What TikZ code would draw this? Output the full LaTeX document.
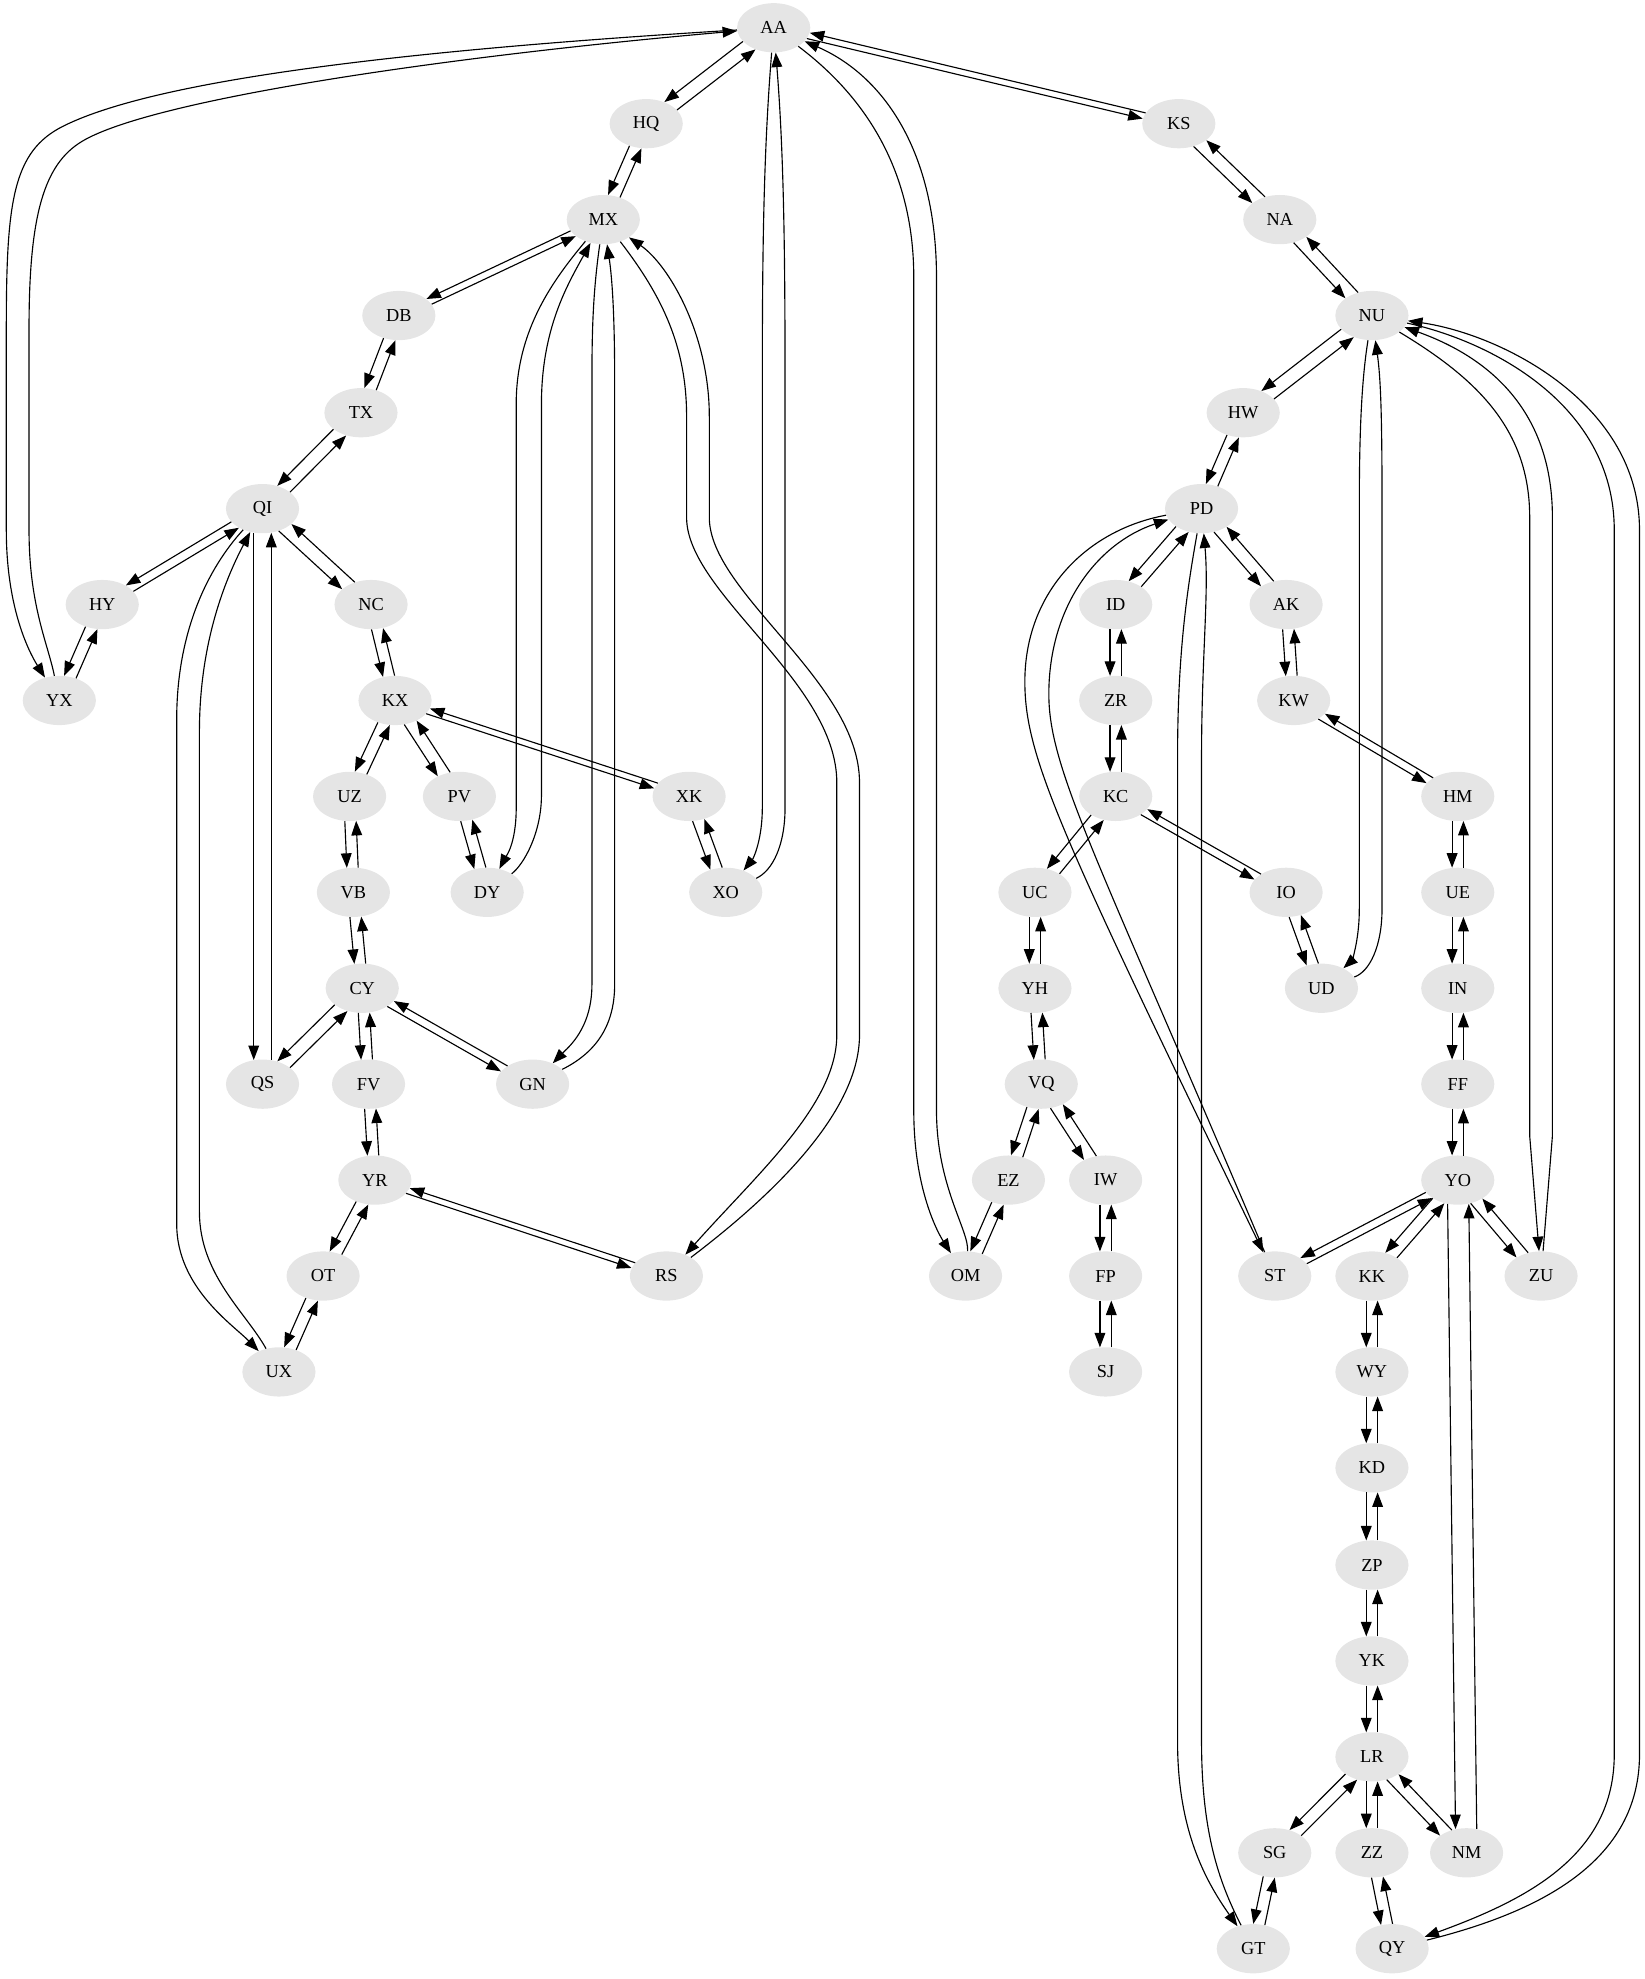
\documentclass[tikz,border=0pt]{standalone}
\usepackage{fontspec}
\setmainfont{Liberation Serif}
\usetikzlibrary{arrows.meta,calc,shapes.geometric}
\definecolor{nodefill}{RGB}{229,229,229}
\tikzset{
  gn/.style={ellipse, fill=nodefill, minimum width=58pt, minimum height=39pt, inner sep=0pt,
    font=\fontsize{14.5}{17}\selectfont},
  e/.style={draw, line width=0.9pt, -{Triangle[length=11.5pt,width=8.5pt]}},
  pr/.style={to path={let \p1=(\tikztostart.center), \p2=(\tikztotarget.center),
      \n1={atan2(\y2-\y1,\x2-\x1)}, \n2={int(round(\n1-#1))}, \n3={int(round(\n1+180+#1))}
      in (\tikztostart.\n2) -- (\tikztotarget.\n3)}},
  pr/.default=13
}
\newcommand{\dpair}[3][13]{\draw[e,pr=#1] (#2) to (#3); \draw[e,pr=#1] (#3) to (#2);}
\begin{document}
\begin{tikzpicture}[x=1pt,y=-1pt]
\useasboundingbox (0,0) rectangle (1303,1568);
\node[gn] (AA) at (613,22) {AA};
\node[gn] (HQ) at (512,98) {HQ};
\node[gn] (KS) at (934,98) {KS};
\node[gn] (MX) at (478,174) {MX};
\node[gn] (NA) at (1014,174) {NA};
\node[gn] (DB) at (316,250) {DB};
\node[gn] (NU) at (1087,250) {NU};
\node[gn] (TX) at (286,327) {TX};
\node[gn] (HW) at (985,327) {HW};
\node[gn] (QI) at (208,403) {QI};
\node[gn] (PD) at (952,403) {PD};
\node[gn] (HY) at (81,479) {HY};
\node[gn] (NC) at (294,479) {NC};
\node[gn] (ID) at (884,479) {ID};
\node[gn] (AK) at (1019,479) {AK};
\node[gn] (YX) at (47,555) {YX};
\node[gn] (KX) at (313,555) {KX};
\node[gn] (ZR) at (884,555) {ZR};
\node[gn] (KW) at (1025,555) {KW};
\node[gn] (UZ) at (277,631) {UZ};
\node[gn] (PV) at (364,631) {PV};
\node[gn] (XK) at (546,631) {XK};
\node[gn] (KC) at (884,631) {KC};
\node[gn] (HM) at (1155,631) {HM};
\node[gn] (VB) at (280,707) {VB};
\node[gn] (DY) at (386,707) {DY};
\node[gn] (XO) at (575,707) {XO};
\node[gn] (UC) at (820,707) {UC};
\node[gn] (IO) at (1019,707) {IO};
\node[gn] (UE) at (1155,707) {UE};
\node[gn] (CY) at (287,783) {CY};
\node[gn] (YH) at (820,783) {YH};
\node[gn] (UD) at (1047,783) {UD};
\node[gn] (IN) at (1155,783) {IN};
\node[gn] (QS) at (208,859) {QS};
\node[gn] (FV) at (292,859) {FV};
\node[gn] (GN) at (422,859) {GN};
\node[gn] (VQ) at (825,859) {VQ};
\node[gn] (FF) at (1155,859) {FF};
\node[gn] (YR) at (297,935) {YR};
\node[gn] (EZ) at (799,935) {EZ};
\node[gn] (IW) at (876,935) {IW};
\node[gn] (YO) at (1155,935) {YO};
\node[gn] (OT) at (256,1011) {OT};
\node[gn] (RS) at (528,1011) {RS};
\node[gn] (OM) at (765,1011) {OM};
\node[gn] (FP) at (876,1011) {FP};
\node[gn] (ST) at (1010,1011) {ST};
\node[gn] (KK) at (1087,1011) {KK};
\node[gn] (ZU) at (1221,1011) {ZU};
\node[gn] (UX) at (221,1087) {UX};
\node[gn] (SJ) at (876,1087) {SJ};
\node[gn] (WY) at (1087,1087) {WY};
\node[gn] (KD) at (1087,1163) {KD};
\node[gn] (ZP) at (1087,1240) {ZP};
\node[gn] (YK) at (1087,1316) {YK};
\node[gn] (LR) at (1087,1392) {LR};
\node[gn] (SG) at (1010,1468) {SG};
\node[gn] (ZZ) at (1087,1468) {ZZ};
\node[gn] (NM) at (1162,1468) {NM};
\node[gn] (GT) at (993,1544) {GT};
\node[gn] (QY) at (1103,1544) {QY};

% short / straight pairs
\dpair{AA}{HQ}
\dpair[5]{AA}{KS}
\dpair{HQ}{MX}
\dpair[6]{MX}{DB}
\dpair{DB}{TX}
\dpair{TX}{QI}
\dpair[8]{QI}{HY}
\dpair{QI}{NC}
\dpair[20]{QI}{QS}
\dpair{HY}{YX}
\dpair{NC}{KX}
\dpair{KX}{UZ}
\dpair{KX}{PV}
\dpair[5]{KX}{XK}
\dpair{UZ}{VB}
\dpair{PV}{DY}
\dpair{XK}{XO}
\dpair{VB}{CY}
\dpair{CY}{QS}
\dpair{CY}{FV}
\dpair[7]{CY}{GN}
\dpair{FV}{YR}
\dpair{YR}{OT}
\dpair[5]{YR}{RS}
\dpair{OT}{UX}
\dpair{KS}{NA}
\dpair{NA}{NU}
\dpair{NU}{HW}
\dpair{HW}{PD}
\dpair{PD}{ID}
\dpair{PD}{AK}
\dpair{ID}{ZR}
\dpair{AK}{KW}
\dpair{ZR}{KC}
\dpair[7]{KW}{HM}
\dpair{KC}{UC}
\dpair[7]{KC}{IO}
\dpair{HM}{UE}
\dpair{UC}{YH}
\dpair{IO}{UD}
\dpair{UE}{IN}
\dpair{YH}{VQ}
\dpair{IN}{FF}
\dpair{VQ}{EZ}
\dpair{VQ}{IW}
\dpair{FF}{YO}
\dpair{EZ}{OM}
\dpair{IW}{FP}
\dpair[7]{YO}{ST}
\dpair[12]{YO}{KK}
\dpair[12]{YO}{ZU}
\dpair[24]{YO}{NM}
\dpair{FP}{SJ}
\dpair{KK}{WY}
\dpair{WY}{KD}
\dpair{KD}{ZP}
\dpair{ZP}{YK}
\dpair{YK}{LR}
\dpair[12]{LR}{SG}
\dpair{LR}{ZZ}
\dpair[12]{LR}{NM}
\dpair{SG}{GT}
\dpair{ZZ}{QY}

% long curved edges
% AA -- YX
\draw[e] (AA) .. controls (350,38) and (130,60) .. (50,100) .. controls (10,120) and (5,160) .. (5,260) -- (5,420) .. controls (5,480) and (22,515) .. (YX);
\draw[e] (YX) .. controls (38,510) and (23,480) .. (23,420) -- (23,260) .. controls (23,170) and (35,130) .. (65,112) .. controls (120,79) and (350,45) .. (AA);
% AA -- XO
\draw[e] (AA) .. controls (605,120) and (604,200) .. (604,300) -- (604,640) .. controls (604,665) and (597,680) .. (XO);
\draw[e] (XO) .. controls (612,690) and (622,670) .. (622,640) -- (622,300) .. controls (622,200) and (621,120) .. (AA);
% AA -- OM
\draw[e] (AA) .. controls (690,80) and (724,140) .. (724,220) -- (724,880) .. controls (724,940) and (742,975) .. (OM);
\draw[e] (OM) .. controls (768,975) and (742,940) .. (742,880) -- (742,220) .. controls (742,120) and (700,60) .. (AA);
% MX -- RS
\draw[e] (MX) .. controls (525,235) and (544,275) .. (544,330) -- (544,410) .. controls (544,470) and (663,540) .. (663,620) -- (663,820) .. controls (663,875) and (600,930) .. (RS);
\draw[e] (RS) .. controls (615,945) and (681,880) .. (681,820) -- (681,620) .. controls (681,540) and (562,470) .. (562,410) -- (562,330) .. controls (562,265) and (530,210) .. (MX);
% MX -- DY
\draw[e] (MX) .. controls (440,220) and (409,260) .. (409,320) -- (409,640) .. controls (409,670) and (400,680) .. (DY);
\draw[e] (DY) .. controls (415,685) and (429,660) .. (429,630) -- (429,320) .. controls (429,260) and (450,225) .. (MX);
% MX -- GN
\draw[e] (MX) .. controls (470,230) and (469,260) .. (469,300) -- (469,780) .. controls (469,815) and (450,830) .. (GN);
\draw[e] (GN) .. controls (470,835) and (487,815) .. (487,780) -- (487,300) .. controls (487,250) and (485,220) .. (MX);
% QI -- UX
\draw[e] (QI) .. controls (165,450) and (140,500) .. (140,570) -- (140,970) .. controls (140,1020) and (185,1050) .. (UX);
\draw[e] (UX) .. controls (195,1040) and (158,1010) .. (158,960) -- (158,580) .. controls (158,510) and (178,460) .. (QI);
% NU -- UD
\draw[e] (NU) .. controls (1079,300) and (1077,340) .. (1077,400) -- (1077,720) .. controls (1077,748) and (1070,762) .. (UD);
\draw[e] (UD) .. controls (1085,770) and (1095,750) .. (1095,720) -- (1095,400) .. controls (1095,330) and (1094,300) .. (NU);
% NU -- ZU
\draw[e] (NU) .. controls (1170,300) and (1212,340) .. (1212,410) -- (1212,900) -- (ZU);
\draw[e] (ZU) -- (1230,900) -- (1230,410) .. controls (1230,330) and (1185,285) .. (NU);
% NU -- QY
\draw[e] (NU) .. controls (1180,270) and (1279,320) .. (1279,420) -- (1279,1390) .. controls (1279,1470) and (1210,1505) .. (QY);
\draw[e] (QY) .. controls (1220,1515) and (1299,1475) .. (1299,1390) -- (1299,420) .. controls (1299,320) and (1190,265) .. (NU);
% PD -- GT
\draw[e] (PD) .. controls (940,470) and (933,520) .. (933,600) -- (933,1380) .. controls (933,1450) and (955,1490) .. (GT);
\draw[e] (GT) .. controls (965,1490) and (952,1450) .. (952,1380) -- (952,600) .. controls (952,520) and (958,470) .. (PD);
% PD -- ST
\draw[e] (PD) .. controls (860,420) and (812,470) .. (812,540) .. controls (812,600) and (840,660) .. (ST);
\draw[e] (ST) .. controls (870,680) and (831,610) .. (831,550) .. controls (831,480) and (870,430) .. (PD);
\end{tikzpicture}
\end{document}
